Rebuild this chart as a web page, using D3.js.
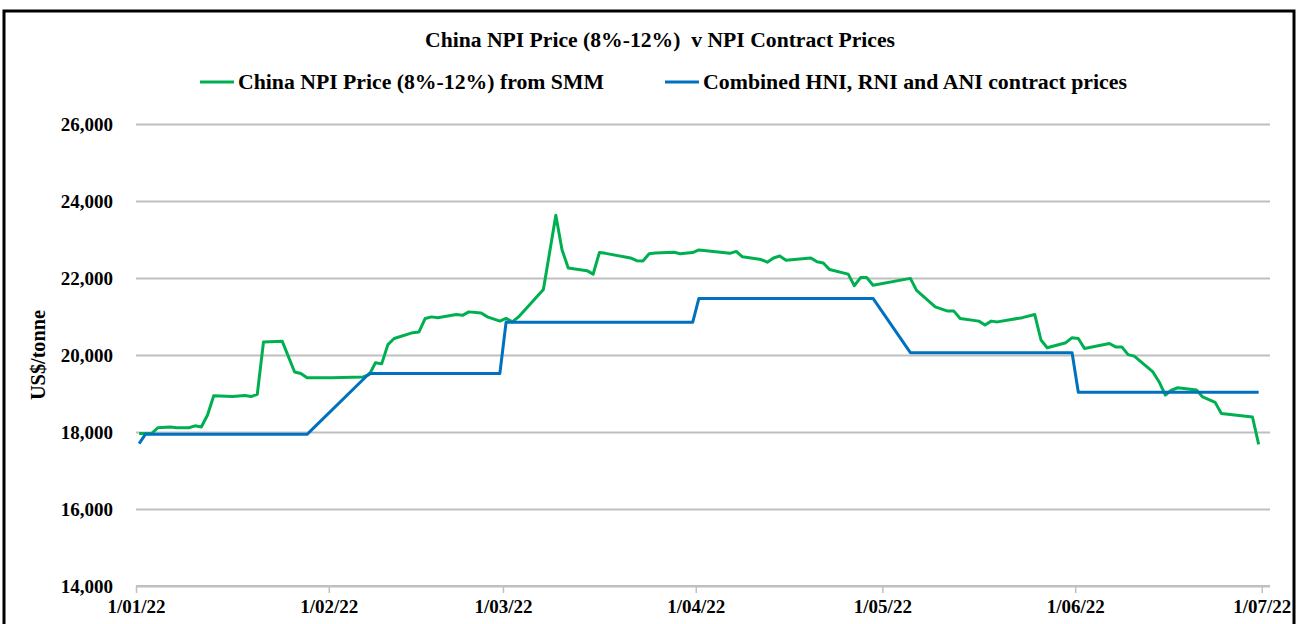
<!DOCTYPE html>
<html>
<head>
<meta charset="utf-8">
<script src="https://cdn.jsdelivr.net/npm/d3@7"></script>
<style>
  html, body { margin: 0; padding: 0; background: #fff; }
  svg { display: block; }
  text { font-family: "Liberation Serif", "Times New Roman", serif; font-weight: bold; fill: #000; }
</style>
</head>
<body>
<svg id="chart" width="1298" height="624"></svg>
<script>
// ---------- DATA ----------
const chartTitle = "China NPI Price (8%-12%)  v NPI Contract Prices";
const seriesNames = ["China NPI Price (8%-12%) from SMM", "Combined HNI, RNI and ANI contract prices"];
const yAxisTitle = "US$/tonne";

const greenDates = [
  "2022-01-01","2022-01-03","2022-01-04","2022-01-06","2022-01-07","2022-01-09","2022-01-10","2022-01-11",
  "2022-01-12","2022-01-13","2022-01-16","2022-01-18","2022-01-19","2022-01-20","2022-01-21","2022-01-24",
  "2022-01-26","2022-01-27","2022-01-28","2022-02-01","2022-02-06","2022-02-07","2022-02-08","2022-02-09",
  "2022-02-10","2022-02-11","2022-02-14","2022-02-15","2022-02-16","2022-02-17","2022-02-18","2022-02-21",
  "2022-02-22","2022-02-23","2022-02-25","2022-02-26","2022-02-28","2022-03-01","2022-03-02","2022-03-03",
  "2022-03-07","2022-03-09","2022-03-10","2022-03-11","2022-03-14","2022-03-15","2022-03-16","2022-03-17",
  "2022-03-21","2022-03-22","2022-03-23","2022-03-24","2022-03-25","2022-03-28","2022-03-29","2022-03-31",
  "2022-04-01","2022-04-06","2022-04-07","2022-04-08","2022-04-11","2022-04-12","2022-04-13","2022-04-14",
  "2022-04-15","2022-04-19","2022-04-20","2022-04-21","2022-04-22","2022-04-25","2022-04-26","2022-04-27",
  "2022-04-28","2022-04-29","2022-05-05","2022-05-06","2022-05-09","2022-05-11","2022-05-12","2022-05-13",
  "2022-05-16","2022-05-17","2022-05-18","2022-05-19","2022-05-23","2022-05-25","2022-05-26","2022-05-27",
  "2022-05-30","2022-05-31","2022-06-01","2022-06-02","2022-06-06","2022-06-07","2022-06-08","2022-06-09",
  "2022-06-10","2022-06-13","2022-06-14","2022-06-15","2022-06-16","2022-06-17","2022-06-20","2022-06-21",
  "2022-06-23","2022-06-24","2022-06-29","2022-06-30"
];
const greenValues = [
  17960,17960,18110,18130,18110,18110,18160,18130,
  18440,18940,18920,18950,18920,18980,20340,20360,
  19560,19520,19410,19410,19430,19490,19800,19770,
  20270,20430,20580,20600,20950,20990,20970,21050,
  21030,21120,21090,20990,20880,20950,20860,20990,
  21700,23630,22730,22260,22190,22100,22660,22640,
  22520,22450,22440,22630,22650,22670,22630,22660,
  22730,22640,22690,22550,22480,22410,22520,22570,
  22460,22520,22420,22390,22220,22100,21800,22010,
  22010,21810,21990,21680,21250,21140,21140,20950,
  20880,20780,20880,20860,20970,21050,20390,20190,
  20320,20450,20430,20170,20300,20210,20210,20010,
  19970,19560,19300,18960,19090,19150,19090,18910,
  18770,18480,18390,17680
];

const blueDates = [
  "2022-01-01","2022-01-02","2022-01-28","2022-02-07","2022-02-28","2022-03-01","2022-03-31",
  "2022-04-01","2022-04-29","2022-05-05","2022-05-31","2022-06-01","2022-06-30"
];
const blueValues = [
  17700,17940,17940,19520,19520,20850,20850,
  21470,21470,20060,20060,19030,19030
];

const yTicks = [14000, 16000, 18000, 20000, 22000, 24000, 26000];
const xTickLabels = ["1/01/22","1/02/22","1/03/22","1/04/22","1/05/22","1/06/22","1/07/22"];
const seriesColors = ["#00B050", "#0070C0"];

// ---------- CHART ----------
const svg = d3.select("#chart");
const parse = d3.timeParse("%Y-%m-%d");

const plotLeft = 136, plotRight = 1268, plotTop = 124, plotBottom = 586;

const x = d3.scaleTime()
  .domain([new Date(2022, 0, 1), new Date(2022, 6, 2)])
  .range([plotLeft, plotRight]);
const y = d3.scaleLinear()
  .domain([14000, 26000])
  .range([plotBottom, plotTop]);

// outer frame
svg.append("rect")
  .attr("x", 4).attr("y", 11)
  .attr("width", 1290).attr("height", 640)
  .attr("fill", "none").attr("stroke", "#000").attr("stroke-width", 3);

// y axis with gridlines
const yAxis = svg.append("g")
  .attr("transform", `translate(${plotLeft},0)`)
  .call(d3.axisLeft(y).tickValues(yTicks).tickFormat(d3.format(",")).tickSize(-(plotRight + 2 - plotLeft)).tickPadding(23));
yAxis.select(".domain").remove();
yAxis.selectAll(".tick line").attr("stroke", "#BFBFBF").attr("stroke-width", 2);
yAxis.selectAll(".tick text").style("font-size", "19px").attr("dy", "0.35em");

// x axis
const monthTicks = d3.timeMonth.range(new Date(2022, 0, 1), new Date(2022, 6, 2));
const xAxis = svg.append("g")
  .attr("transform", `translate(0,${plotBottom})`)
  .call(d3.axisBottom(x).tickValues(monthTicks).tickFormat((d, i) => xTickLabels[i]).tickSize(7).tickSizeOuter(0).tickPadding(7));
xAxis.select(".domain").attr("stroke", "#BFBFBF").attr("stroke-width", 2)
  .attr("d", `M${plotLeft},0H${plotRight + 2}`);
xAxis.selectAll(".tick line").attr("stroke", "#BFBFBF").attr("stroke-width", 1.5);
xAxis.selectAll(".tick text").style("font-size", "19px");

// lines
const line = d3.line()
  .x(d => x(d3.timeHour.offset(d.date, 12)))
  .y(d => y(d.value));

const green = greenDates.map((d, i) => ({ date: parse(d), value: greenValues[i] }));
const blue = blueDates.map((d, i) => ({ date: parse(d), value: blueValues[i] }));

svg.append("path").datum(green)
  .attr("d", line).attr("fill", "none")
  .attr("stroke", seriesColors[0]).attr("stroke-width", 3).attr("stroke-linejoin", "round");
svg.append("path").datum(blue)
  .attr("d", line).attr("fill", "none")
  .attr("stroke", seriesColors[1]).attr("stroke-width", 3).attr("stroke-linejoin", "round");

// title
svg.append("text")
  .attr("x", 660).attr("y", 47)
  .attr("text-anchor", "middle")
  .style("font-size", "20px")
  .attr("xml:space", "preserve")
  .attr("textLength", 470).attr("lengthAdjust", "spacingAndGlyphs")
  .text(chartTitle);

// legend
const legendItems = [
  { x: 200, len: 366, name: seriesNames[0], color: seriesColors[0] },
  { x: 665, len: 424, name: seriesNames[1], color: seriesColors[1] }
];
const lg = svg.append("g");
legendItems.forEach(it => {
  lg.append("line")
    .attr("x1", it.x).attr("x2", it.x + 34)
    .attr("y1", 82).attr("y2", 82)
    .attr("stroke", it.color).attr("stroke-width", 3);
  lg.append("text")
    .attr("x", it.x + 38).attr("y", 89)
    .style("font-size", "20px")
    .attr("textLength", it.len).attr("lengthAdjust", "spacingAndGlyphs")
    .text(it.name);
});

// y axis title
svg.append("text")
  .attr("transform", "translate(45,355) rotate(-90)")
  .attr("text-anchor", "middle")
  .style("font-size", "20px")
  .attr("textLength", 90).attr("lengthAdjust", "spacingAndGlyphs")
  .text(yAxisTitle);
</script>
</body>
</html>
